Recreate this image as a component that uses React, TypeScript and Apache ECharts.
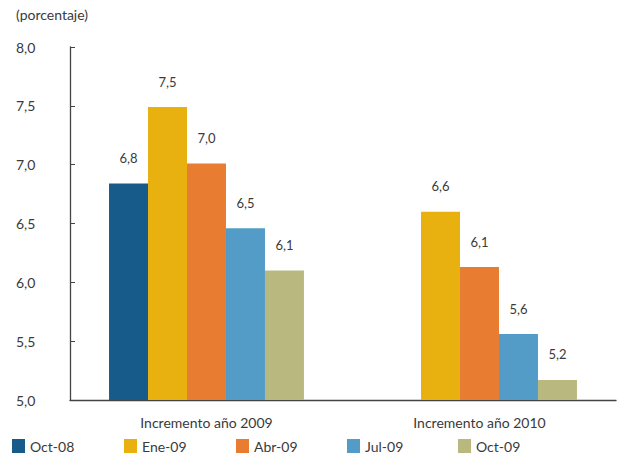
import React, { useEffect, useRef } from "react";
import * as echarts from "echarts";

const categories = ["Incremento año 2009", "Incremento año 2010"];
const seriesNames = ["Oct-08", "Ene-09", "Abr-09", "Jul-09", "Oct-09"];
const oct08 = [6.84, null];
const ene09 = [7.49, 6.6];
const abr09 = [7.01, 6.13];
const jul09 = [6.46, 5.56];
const oct09 = [6.1, 5.17];
const seriesValues = [oct08, ene09, abr09, jul09, oct09];
const colors = ["#175B8B", "#E9B110", "#E87D31", "#529CC7", "#B9B97F"];
const legendLefts = [12, 124, 236, 347, 458];

const FONT = "Lato, 'Open Sans', sans-serif";
const TXT = "#3a3a3a";

export default function App() {
  const ref = useRef<HTMLDivElement>(null);
  useEffect(() => {
    const chart = echarts.init(ref.current!, null, { renderer: "svg" });
    const fmt = (v: number) => v.toFixed(1).replace(".", ",");
    chart.setOption({
      animation: false,
      textStyle: { fontFamily: FONT },
      grid: { left: 70, right: 14, top: 47, bottom: 58 },
      legend: seriesNames.map((n, i) => ({
        data: [n],
        left: legendLefts[i],
        top: 439,
        icon: "rect",
        itemWidth: 13,
        itemHeight: 14,
        itemGap: 5,
        padding: 0,
        textStyle: { fontFamily: FONT, fontSize: 14, color: TXT, padding: [4, 0, 0, 0] },
      })),
      graphic: [
        {
          type: "text",
          left: 16,
          top: 7,
          style: { text: "(porcentaje)", fontFamily: FONT, fontSize: 14, fill: TXT },
        },
      ],
      xAxis: {
        type: "category",
        data: categories,
        axisLine: { lineStyle: { color: "#444", width: 1.3 } },
        axisTick: { inside: true, length: 6, lineStyle: { color: "#444" } },
        axisLabel: { color: TXT, fontSize: 14, fontFamily: FONT, margin: 15 },
      },
      yAxis: {
        type: "value",
        min: 5,
        max: 8,
        interval: 0.5,
        axisLine: { show: true, lineStyle: { color: "#444", width: 1.3 } },
        axisTick: { show: true, inside: true, length: 5, lineStyle: { color: "#444" } },
        splitLine: { show: false },
        axisLabel: {
          color: TXT,
          fontSize: 14,
          fontFamily: FONT,
          align: "left",
          margin: 54,
          formatter: (v: number) => fmt(v),
        },
      },
      series: seriesNames.map((n, i) => ({
        name: n,
        type: "bar",
        data: seriesValues[i],
        barGap: "0%",
        barCategoryGap: "28.6%",
        itemStyle: { color: colors[i] },
        label: {
          show: true,
          position: "top",
          distance: 19,
          color: TXT,
          fontSize: 13,
          fontFamily: FONT,
          formatter: (p: any) => fmt(p.value),
        },
      })),
    });
    return () => chart.dispose();
  }, []);
  return <div ref={ref} style={{ width: 630, height: 458, position: "absolute", left: 0, top: 0 }} />;
}
